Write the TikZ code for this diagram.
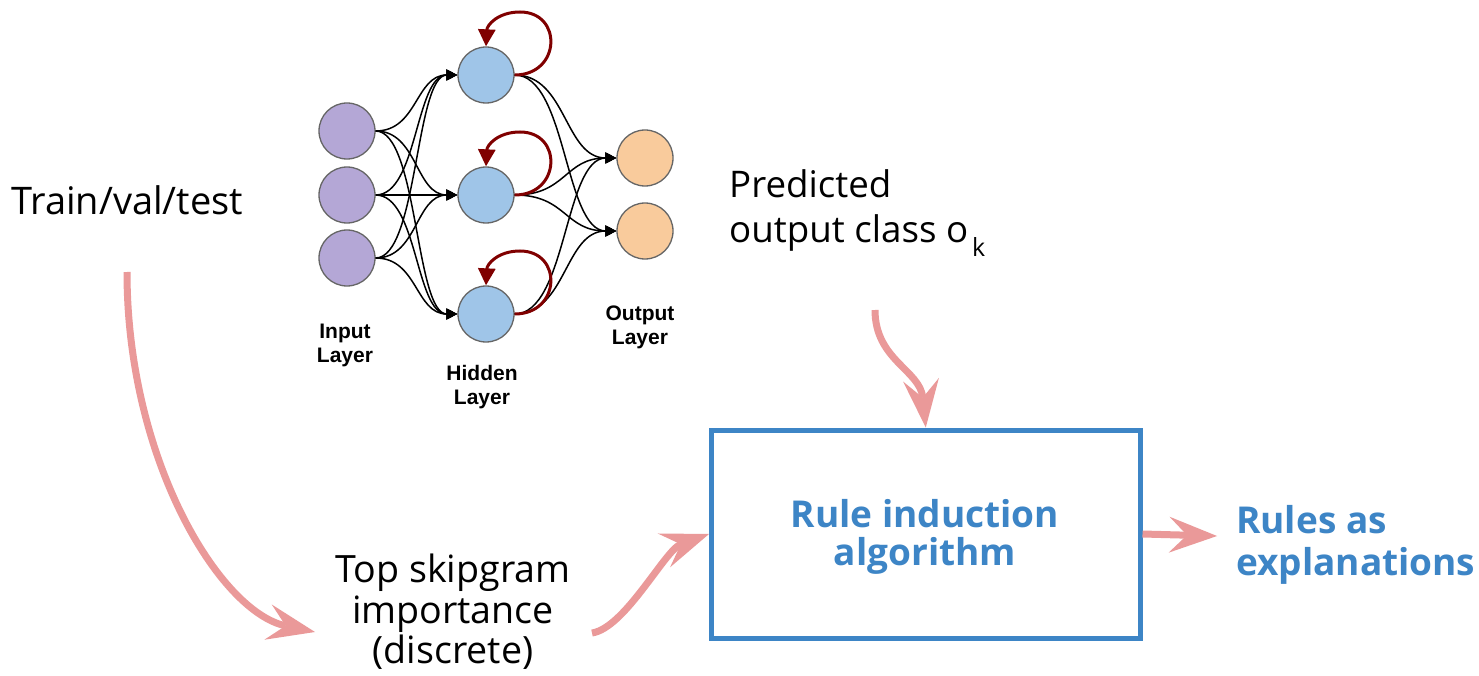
\documentclass[tikz,border=0pt]{standalone}
\usepackage{fontspec}
\newfontfamily\osans{Open Sans}
\newfontfamily\lsans{Liberation Sans}
\usetikzlibrary{arrows.meta,calc}
\definecolor{pinkarrow}{HTML}{EA9999}
\definecolor{boxblue}{HTML}{3D85C6}
\definecolor{inpurple}{HTML}{B4A7D6}
\definecolor{hidblue}{HTML}{9FC5E8}
\definecolor{outorange}{HTML}{F9CB9C}
\definecolor{loopred}{HTML}{800000}
\definecolor{nodegray}{HTML}{666666}
\begin{document}
\begin{tikzpicture}[x=1pt,y=-1pt,
  neuron/.style={circle, draw=nodegray, line width=1.3pt, minimum size=56pt, inner sep=0pt},
  nnedge/.style={draw=black, line width=1.5pt, -{Triangle[length=11pt,width=11pt]}},
  loopedge/.style={draw=loopred, line width=3pt, -{Triangle[length=17pt,width=17pt]}},
  bigarrow/.style={draw=pinkarrow, line width=7pt, -{Stealth[length=48pt,width=36pt,inset=18pt,line width=0pt]}},
  nnlabel/.style={font=\lsans\bfseries\fontsize{21}{24}\selectfont, inner sep=0pt, anchor=base},
  plaintext/.style={font=\osans\fontsize{37.6}{42}\selectfont, inner sep=0pt},
  bluetext/.style={font=\osans\bfseries\fontsize{37}{40}\selectfont, text=boxblue, inner sep=0pt},
  rulebox/.style={draw=boxblue, line width=5pt, minimum width=428.5pt, minimum height=208pt, inner sep=0pt}
]
\useasboundingbox (0,0) rectangle (1479,676);
\fill[white] (0,0) rectangle (1479,676);

% neural network
\node[neuron, fill=inpurple] (i1) at (347,131) {};
\node[neuron, fill=inpurple] (i2) at (347,195) {};
\node[neuron, fill=inpurple] (i3) at (347,258) {};
\node[neuron, fill=hidblue] (h1) at (486,75) {};
\node[neuron, fill=hidblue] (h2) at (486,195) {};
\node[neuron, fill=hidblue] (h3) at (486,314) {};
\node[neuron, fill=outorange] (o1) at (645,158) {};
\node[neuron, fill=outorange] (o2) at (645,231) {};

\foreach \a in {1,2,3} {
  \foreach \b in {1,2,3} {
    \draw[nnedge] (i\a.east) .. controls +(42,0) and +(-42,0) .. (h\b.west);
  }
  \foreach \b in {1,2} {
    \draw[nnedge] (h\a.east) .. controls +(52,0) and +(-52,0) .. (o\b.west);
  }
}
\foreach \a in {1,2,3} {
  \draw[loopedge] (h\a.east) .. controls ($(h\a)+(75,0)$) and ($(h\a)+(77,-63)$) .. ($(h\a)+(34,-63)$)
     .. controls ($(h\a)+(12,-63)$) and ($(h\a)+(1,-50)$) .. (h\a.north);
}

\node[nnlabel] (inl1) at (345,338) {Input};
\node[nnlabel] (inl2) at (345,362) {Layer};
\node[nnlabel] (hil1) at (482,380) {Hidden};
\node[nnlabel] (hil2) at (482,404) {Layer};
\node[nnlabel] (oul1) at (640,320) {Output};
\node[nnlabel] (oul2) at (640,344) {Layer};

% texts
\node[plaintext, anchor=base west, font=\osans\fontsize{38}{42}\selectfont] (train) at (11,215) {Train/val/test};
\node[plaintext, anchor=base west, font=\osans\fontsize{36.7}{42}\selectfont] (pred1) at (729,198) {Predicted};
\node[plaintext, anchor=base west, font=\osans\fontsize{36.7}{42}\selectfont] (pred2) at (729,243) {output class o\hspace{4pt}\raisebox{-14pt}{\fontsize{25}{25}\selectfont k}};
\node[plaintext, anchor=base] (top1) at (453,582) {Top skipgram};
\node[plaintext, anchor=base] (top2) at (453,623) {importance};
\node[plaintext, anchor=base] (top3) at (453,663) {(discrete)};

\node[rulebox] (box) at (925.75,534) {};
\node[bluetext, anchor=base] (rule1) at (925,527) {Rule induction};
\node[bluetext, anchor=base] (rule2) at (925,565) {algorithm};
\node[bluetext, anchor=base west] (res1) at (1236,533) {Rules as};
\node[bluetext, anchor=base west] (res2) at (1236,575) {explanations};

% big arrows
\coordinate (a1s) at (127,272);
\coordinate (a1e) at (315,632);
\coordinate (a2s) at (592,633);
\coordinate (a3s) at (875,310);
\coordinate (a4e) at (1217,536);
\draw[bigarrow] (a1s) .. controls (127,460) and (220,612) .. (a1e);
\draw[bigarrow] (a2s) .. controls (625,628) and (665,550) .. (box.west);
\draw[bigarrow] (a3s) .. controls (875,360) and (920,370) .. (box.north);
\draw[bigarrow] (box.east) -- (a4e);
\end{tikzpicture}
\end{document}
